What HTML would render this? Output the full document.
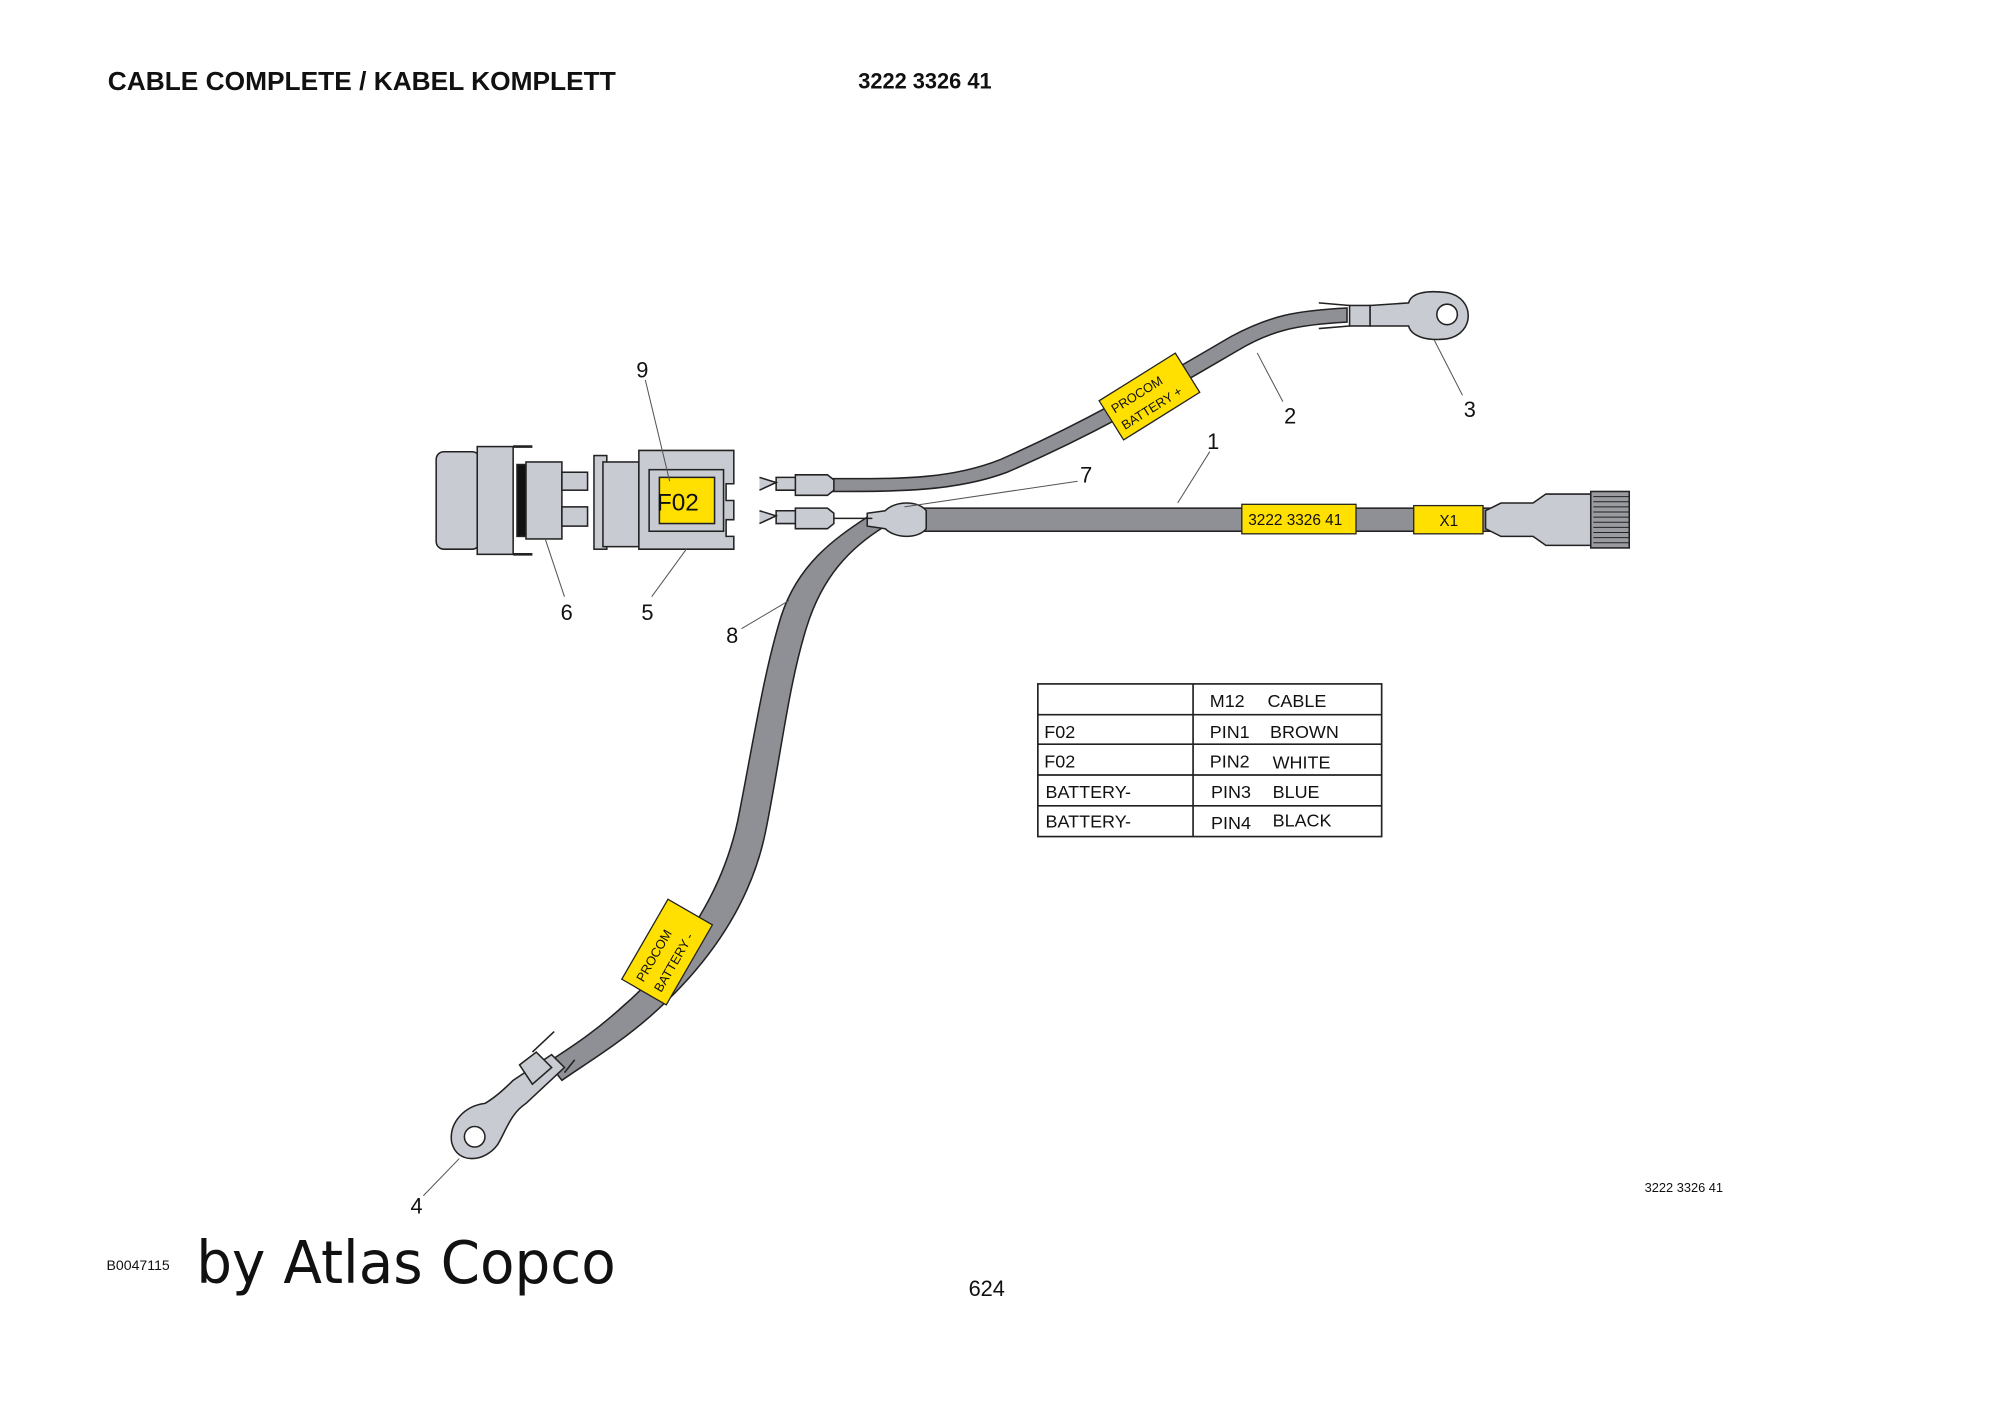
<!DOCTYPE html>
<html><head><meta charset="utf-8"><style>
html,body{margin:0;padding:0;background:#fff;}
svg{display:block;}
text{font-family:"Liberation Sans",Arial,sans-serif;fill:#111;}
</style></head><body>
<svg width="2000" height="1414" viewBox="0 0 1559 1102" xmlns="http://www.w3.org/2000/svg">
<rect width="1559" height="1102" fill="#fff"/>
<text x="84" y="70" font-size="20" font-weight="bold" textLength="396" lengthAdjust="spacingAndGlyphs">CABLE COMPLETE / KABEL KOMPLETT</text>
<text x="669" y="69" font-size="17" font-weight="bold">3222 3326 41</text>

<g stroke="#222" stroke-width="1.2" fill="#c9cbd3">
<path d="M648,373 C700,373 740,374 780,358 C850,327 900,297 960,262 C990,246 1010,242 1050,240 L1050,251 C1010,253 990,258 965,273 C905,308 855,338 785,368 C745,383 700,383 648,383 Z" fill="#8f9095"/>
<path d="M676,403 C650,420 622,440 609,480 C595,525 587,580 575,640 C562,700 527,748 487,783 C462,806 442,818 427,828 L438,842 C455,830 482,814 507,792 C550,754 585,707 597,647 C609,587 615,532 629,488 C641,450 662,427 690,410 Z" fill="#8f9095"/>
<rect x="715" y="396" width="460" height="18" fill="#8f9095"/>
<path d="M676,400 L690,398 C698,390 716,390 722,398 L722,412 C716,420 698,420 690,412 L676,410 Z"/>
<path d="M1158,398 L1170,392 L1195,392 L1205,385 L1240,385 L1240,425 L1205,425 L1195,418 L1170,418 L1158,412 Z"/>
<rect x="1240" y="383" width="30" height="44" fill="#9a9ba0"/>
<g stroke-width="0.8"><path d="M1242,387H1270M1242,391H1270M1242,395H1270M1242,399H1270M1242,403H1270M1242,407H1270M1242,411H1270M1242,415H1270M1242,419H1270M1242,423H1270"/></g>
<rect x="1052" y="238" width="16" height="16"/>
<path d="M1028,236 L1052,238 M1028,256 L1052,254" fill="none"/>
<path d="M1068,238 L1098,236 C1100,228 1112,226 1128,228 C1150,232 1150,260 1128,264 C1112,266 1100,262 1098,254 L1068,254 Z"/>
<circle cx="1128" cy="245" r="8" fill="#fff"/>
<path d="M430,822 L440,832 L410,860 C398,868 395,880 388,892 C378,906 356,908 352,890 C350,875 362,862 378,860 C385,856 392,850 400,842 Z"/>
<circle cx="370" cy="886" r="8" fill="#fff"/>
<path d="M405,830 L418,820 L430,832 L415,845 Z"/>
<path d="M415,820 L432,804 M440,836 L448,826" fill="none"/>
<path d="M592,372 L605,376 L592,382 M605,372 L620,372 L620,382 L605,382 Z M620,370 L645,370 L650,374 L650,382 L645,386 L620,386 Z"/>
<path d="M592,398 L605,402 L592,408 M605,398 L620,398 L620,408 L605,408 Z M620,396 L645,396 L650,400 L650,408 L645,412 L620,412 Z"/>
<line x1="650" y1="404" x2="680" y2="404"/>
<rect x="340" y="352" width="34" height="76" rx="6"/>
<rect x="372" y="348" width="28" height="84"/>
<path d="M400,348 H415 M400,432 H415" fill="none" stroke-width="2"/>
<rect x="403" y="362" width="8" height="56" fill="#111"/>
<rect x="410" y="360" width="28" height="60"/>
<rect x="438" y="368" width="20" height="14"/>
<rect x="438" y="395" width="20" height="15"/>
<rect x="463" y="355" width="10" height="73"/>
<rect x="470" y="360" width="28" height="66"/>
<path d="M498,351 H572 V377 H566 V390 H572 V405 H566 V418 H572 V428 H498 Z"/>
<rect x="506" y="366" width="58" height="48"/>
<rect x="514" y="372" width="43" height="36" fill="#ffe000"/>
</g>
<text x="512" y="398" font-size="19">F02</text>

<g transform="translate(896,309) rotate(-32)">
<rect x="-35" y="-18" width="70" height="36" fill="#ffe000" stroke="#222" stroke-width="1"/>
<text x="-30" y="-3" font-size="10">PROCOM</text>
<text x="-30" y="12" font-size="10">BATTERY +</text>
</g>
<g transform="translate(520,742) rotate(-60)">
<rect x="-36" y="-20" width="72" height="40" fill="#ffe000" stroke="#222" stroke-width="1"/>
<text x="-30" y="-4" font-size="10">PROCOM</text>
<text x="-30" y="12" font-size="10">BATTERY -</text>
</g>
<rect x="968" y="393" width="89" height="23" fill="#ffe000" stroke="#222"/>
<text x="973" y="409" font-size="12">3222 3326 41</text>
<rect x="1102" y="394" width="54" height="22" fill="#ffe000" stroke="#222"/>
<text x="1122" y="410" font-size="12">X1</text>

<g stroke="#555" stroke-width="0.8">
<line x1="503" y1="296" x2="522" y2="375"/>
<line x1="943" y1="352" x2="918" y2="392"/>
<line x1="1000" y1="313" x2="980" y2="275"/>
<line x1="1140" y1="308" x2="1118" y2="265"/>
<line x1="840" y1="375" x2="705" y2="395"/>
<line x1="578" y1="490" x2="615" y2="468"/>
<line x1="440" y1="465" x2="425" y2="420"/>
<line x1="508" y1="465" x2="535" y2="428"/>
<line x1="330" y1="932" x2="358" y2="903"/>
</g>
<g font-size="17">
<text x="496" y="294">9</text><text x="941" y="350">1</text><text x="1001" y="330">2</text>
<text x="1141" y="325">3</text><text x="842" y="376">7</text><text x="566" y="501">8</text>
<text x="437" y="483">6</text><text x="500" y="483">5</text><text x="320" y="946">4</text>
</g>

<g stroke="#222" stroke-width="1.3" fill="none">
<rect x="809" y="533" width="268" height="119"/>
<line x1="930" y1="533" x2="930" y2="652"/>
<line x1="809" y1="557" x2="1077" y2="557"/>
<line x1="809" y1="580" x2="1077" y2="580"/>
<line x1="809" y1="604" x2="1077" y2="604"/>
<line x1="809" y1="628" x2="1077" y2="628"/>
</g>
<g font-size="14">
<text x="943" y="551">M12</text><text x="988" y="551">CABLE</text>
<text x="814" y="575">F02</text><text x="943" y="575">PIN1</text><text x="990" y="575">BROWN</text>
<text x="814" y="598">F02</text><text x="943" y="598">PIN2</text><text x="992" y="599">WHITE</text>
<text x="815" y="622">BATTERY-</text><text x="944" y="622">PIN3</text><text x="992" y="622">BLUE</text>
<text x="815" y="645">BATTERY-</text><text x="944" y="646">PIN4</text><text x="992" y="644">BLACK</text>
</g>

<text x="1282" y="929" font-size="10">3222 3326 41</text>
<text x="83" y="990" font-size="11">B0047115</text>
<text x="153" y="1000" font-size="46" textLength="327" lengthAdjust="spacingAndGlyphs" style="font-family:'DejaVu Sans','Liberation Sans',sans-serif">by Atlas Copco</text>
<text x="755" y="1010" font-size="17">624</text>
</svg>
</body></html>
